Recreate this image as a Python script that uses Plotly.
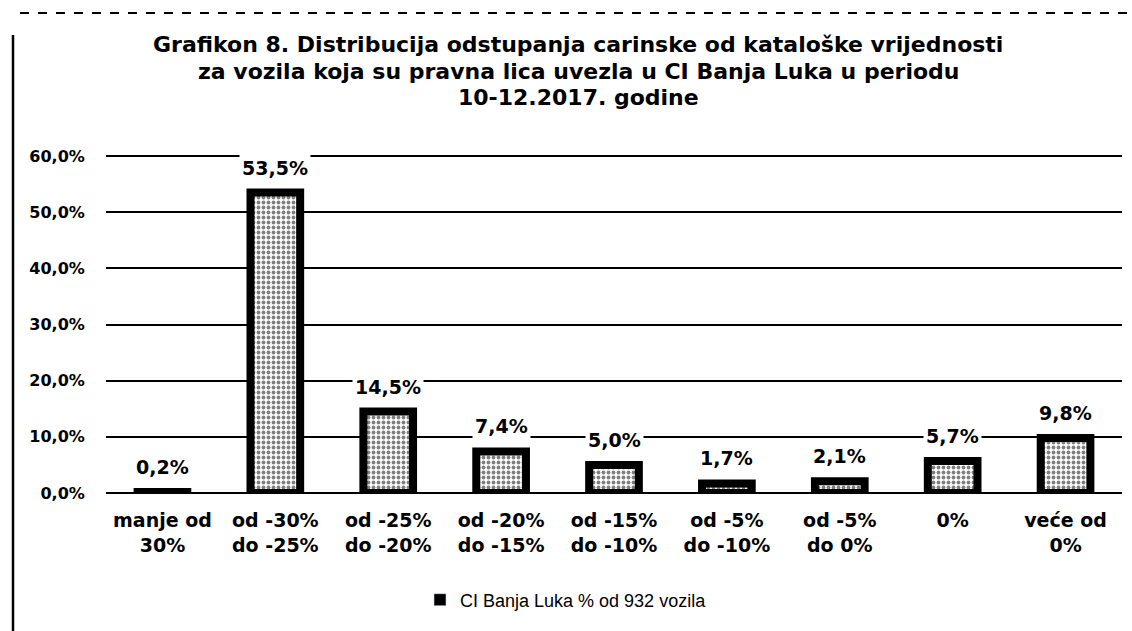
import plotly.graph_objects as go

categories = ["manje od<br>30%", "od -30%<br>do -25%", "od -25%<br>do -20%", "od -20%<br>do -15%",
              "od -15%<br>do -10%", "od -5%<br>do -10%", "od -5%<br>do 0%", "0%", "veće od<br>0%"]
values = [0.2, 53.5, 14.5, 7.4, 5.0, 1.7, 2.1, 5.7, 9.8]
series_name = "CI Banja Luka % od 932 vozila"
tick_vals = [0, 10, 20, 30, 40, 50, 60]
tick_text = ["0,0%", "10,0%", "20,0%", "30,0%", "40,0%", "50,0%", "60,0%"]
title_lines = ["Grafikon 8. Distribucija odstupanja carinske od kataloške vrijednosti",
               "za vozila koja su pravna lica uvezla u CI Banja Luka u periodu",
               "10-12.2017. godine"]

labels = [f"{v:.1f}%".replace(".", ",") for v in values]

W, H = 1132, 631
L, R, T, B = 106, 10, 155, 138
pw, ph = W - L - R, H - T - B


def px(x):
    return (x - L) / pw


def py(y):
    return (H - B - y) / ph


fig = go.Figure()
fig.add_trace(go.Bar(
    x=categories, y=values, name=series_name, showlegend=False,
    width=0.44,
    marker=dict(color="white",
                line=dict(color="black", width=8),
                pattern=dict(shape=".", fgcolor="black", bgcolor="white", size=5, solidity=0.45)),
))
# legend entry (solid black square as in the reference)
fig.add_trace(go.Bar(x=[None], y=[None], name=series_name, marker=dict(color="black"),
                     showlegend=True))

annotations = []
for c, v, t in zip(categories, values, labels):
    annotations.append(dict(x=c, y=v, xref="x", yref="y", text=t, showarrow=False,
                            yanchor="bottom", yshift=11, bgcolor="white", borderpad=2,
                            font=dict(family="DejaVu Sans", size=19, color="black", weight="bold")))
for line, ypix in zip(title_lines, [45, 71, 97]):
    annotations.append(dict(x=px(578), y=py(ypix), xref="paper", yref="paper", text=line,
                            showarrow=False, xanchor="center", yanchor="middle",
                            font=dict(family="DejaVu Sans", size=22, color="black", weight="bold")))

shapes = [
    dict(type="line", xref="paper", yref="paper", x0=px(13), x1=px(13), y0=py(35), y1=py(631),
         line=dict(color="black", width=2.5)),
    dict(type="line", xref="paper", yref="paper", x0=px(20), x1=px(1132), y0=py(13), y1=py(13),
         line=dict(color="black", width=2, dash="dash")),
]

fig.update_layout(
    width=W, height=H,
    margin=dict(l=L, r=R, t=T, b=B),
    paper_bgcolor="white", plot_bgcolor="white",
    barmode="overlay",
    xaxis=dict(showgrid=False, showline=False, automargin=False,
               ticks="outside", ticklen=10, tickcolor="rgba(0,0,0,0)",
               tickfont=dict(family="DejaVu Sans", size=19, color="black", weight="bold")),
    yaxis=dict(range=[0, 60.2], tickvals=tick_vals, ticktext=tick_text, automargin=False,
               showgrid=True, gridcolor="black", gridwidth=1.5,
               zeroline=True, zerolinecolor="black", zerolinewidth=1.5,
               ticks="outside", ticklen=17, tickcolor="rgba(0,0,0,0)",
               tickfont=dict(family="DejaVu Sans", size=16, color="black", weight="bold")),
    showlegend=True,
    legend=dict(orientation="h", x=px(420), xanchor="left", y=py(600), yanchor="middle",
                font=dict(family="Liberation Sans", size=18, color="black")),
    annotations=annotations,
    shapes=shapes,
)

fig.write_html("out.html", config={"displayModeBar": False},
               post_script="document.body.style.margin='0';")
